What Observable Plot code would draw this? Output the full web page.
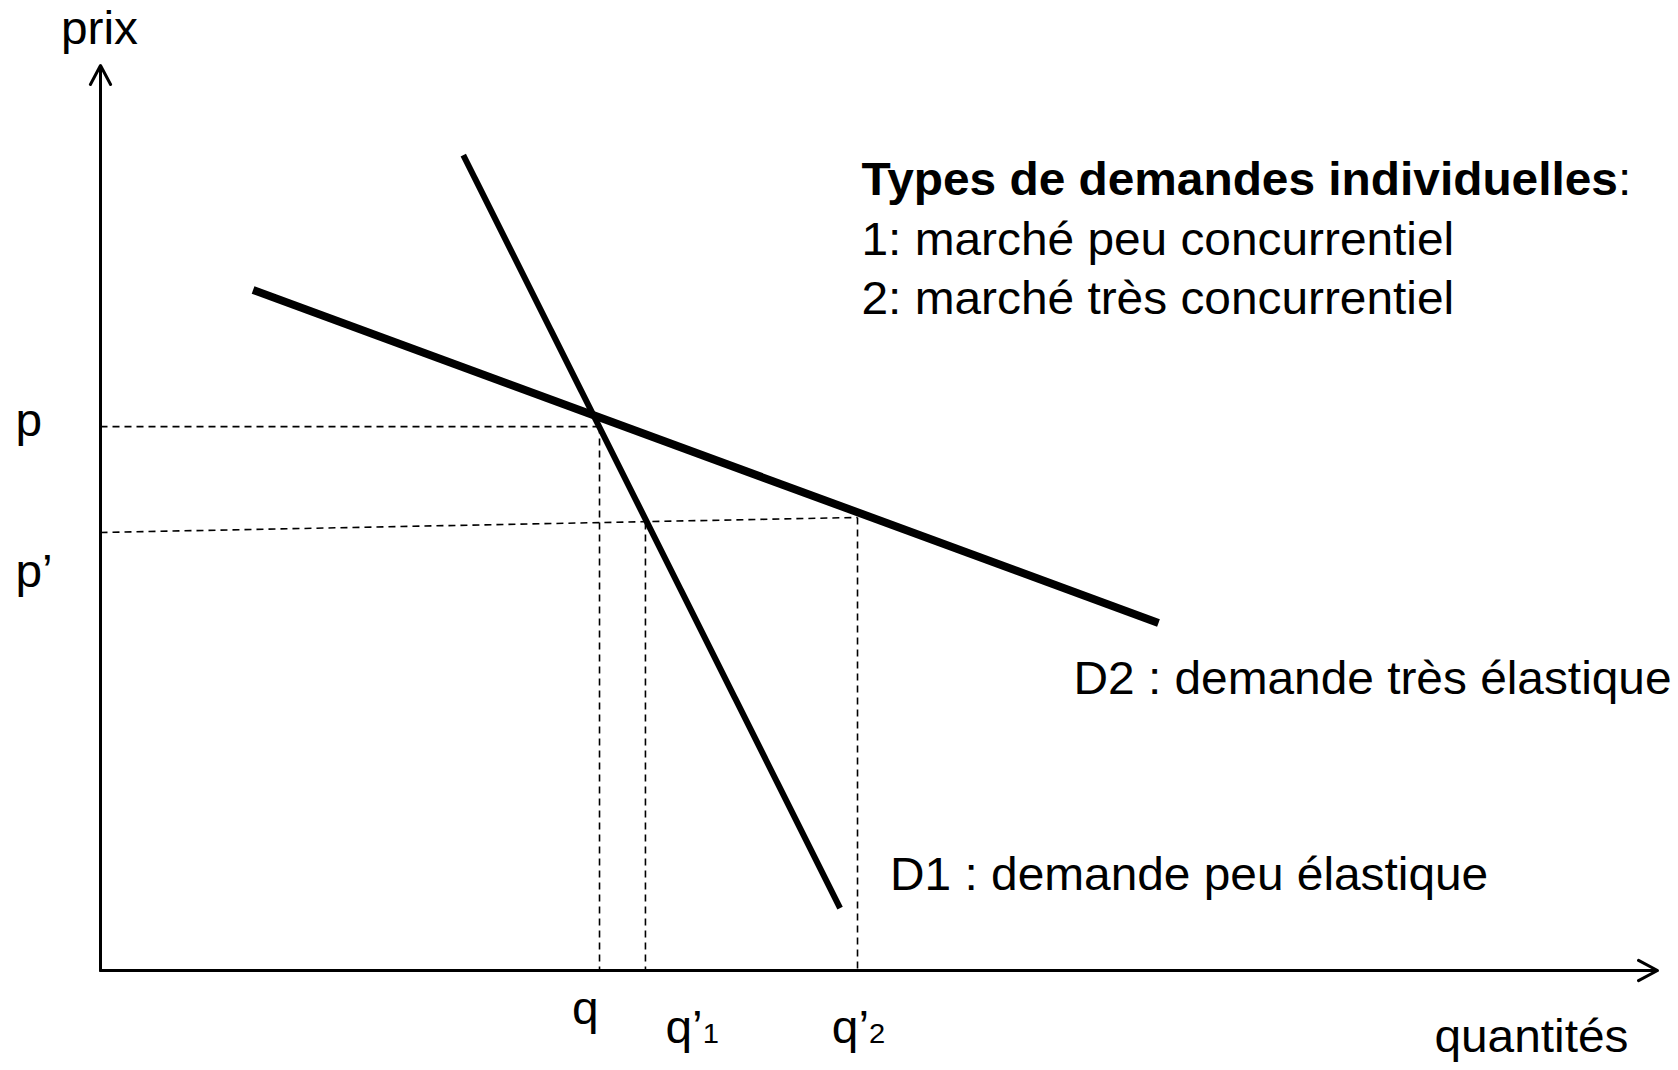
<!DOCTYPE html>
<html>
<head>
<meta charset="utf-8">
<script src="https://cdn.jsdelivr.net/npm/d3@7"></script>
<script src="https://cdn.jsdelivr.net/npm/@observablehq/plot@0.6"></script>
<style>
  html, body { margin: 0; padding: 0; background: #ffffff; }
  #chart svg { display: block; }
</style>
</head>
<body>
<div id="chart"></div>
<script>
// ---- Data (abstract units: quantités 0..100, prix 0..100) ----
const axisNames = ["prix", "quantités"];
const axisMax = [100, 100];

// demand curves: start and end points
const curveNames = ["D1", "D2"];
const curveLabels = ["D1 : demande peu élastique", "D2 : demande très élastique"];
const curveStartQ = [23.3, 9.8];
const curveStartP = [90.1, 75.2];
const curveEndQ = [47.5, 67.95];
const curveEndP = [6.9, 38.4];

// price levels (p, p’): value at the axis and at the far end of its guide line
const priceLabels = ["p", "p’"];
const priceAtAxis = [60.1, 48.4];
const priceAtEnd = [60.1, 50.06];

// quantity levels and the height where each guide starts
const quantityLabels = ["q", "q’1", "q’2"];
const quantityValues = [32.05, 35.0, 48.62];
const quantityGuideTop = [60.1, 49.5, 50.06];

// legend text
const legendLines = [
  "Types de demandes individuelles:",
  "1: marché peu concurrentiel",
  "2: marché très concurrentiel"
];

// ---- Tables built from the arrays ----
const curves = curveNames.map((n, i) => ({
  name: n, label: curveLabels[i],
  q1: curveStartQ[i], p1: curveStartP[i], q2: curveEndQ[i], p2: curveEndP[i]
}));
const axes = [
  {x1: 0, y1: 0, x2: 0, y2: axisMax[0]},
  {x1: 0, y1: 0, x2: axisMax[1], y2: 0}
];
const priceGuides = [
  {label: priceLabels[0], x1: 0, y1: priceAtAxis[0], x2: quantityValues[0], y2: priceAtEnd[0]},
  {label: priceLabels[1], x1: 0, y1: priceAtAxis[1], x2: quantityValues[2], y2: priceAtEnd[1]}
];
const quantityGuides = quantityLabels.map((l, i) => ({
  label: l, x: quantityValues[i], top: quantityGuideTop[i]
}));

const FONT = "Liberation Sans, Arial, Helvetica, sans-serif";
const FS = 46;
const dash = {stroke: "black", strokeWidth: 1.6, strokeDasharray: "7,5"};

const txt = (data, opts) => Plot.text(data, {fontSize: FS, fill: "black", lineAnchor: "bottom", ...opts});

const svg = Plot.plot({
  width: 1678,
  height: 1070,
  margin: 0,
  style: {fontFamily: FONT, background: "white", overflow: "visible"},
  x: {type: "linear", domain: [0, 100], range: [100, 1657], axis: null},
  y: {type: "linear", domain: [0, 100], range: [970, 65], axis: null},
  marks: [
    // dashed guides
    Plot.link(priceGuides, {x1: "x1", y1: "y1", x2: "x2", y2: "y2", ...dash}),
    Plot.link(quantityGuides, {x1: "x", y1: "top", x2: "x", y2: () => 0, ...dash}),
    // axes with arrow heads
    Plot.arrow(axes, {x1: "x1", y1: "y1", x2: "x2", y2: "y2", stroke: "black", strokeWidth: 3, headAngle: 56, headLength: 10.75}),
    // demand curves
    Plot.link([curves[0]], {x1: "q1", y1: "p1", x2: "q2", y2: "p2", stroke: "black", strokeWidth: 6, strokeLinecap: "butt"}),
    Plot.link([curves[1]], {x1: "q1", y1: "p1", x2: "q2", y2: "p2", stroke: "black", strokeWidth: 8, strokeLinecap: "butt"}),
    // axis names
    txt([axisNames[0]], {x: () => 0, y: () => axisMax[0], text: d => d, textAnchor: "middle", dx: -1, dy: -22}),
    txt([axisNames[1]], {x: () => axisMax[1], y: () => 0, text: d => d, textAnchor: "end", dx: -29, dy: 81}),
    // price labels
    txt([priceGuides[0]], {y: "y1", text: "label", frameAnchor: "left", textAnchor: "start", dx: 15, dy: 9}),
    txt([priceGuides[1]], {y: "y1", text: "label", frameAnchor: "left", textAnchor: "start", dx: 15, dy: 55}),
    // quantity labels
    txt([quantityGuides[0]], {x: "x", y: () => 0, text: "label", textAnchor: "end", dx: -1, dy: 53}),
    txt([quantityGuides[1]], {x: "x", y: () => 0, text: "label", textAnchor: "start", dx: 20, dy: 72}),
    txt([quantityGuides[2]], {x: "x", y: () => 0, text: "label", textAnchor: "middle", dx: 1, dy: 72}),
    // curve labels
    txt([curves[0]], {x: "q2", y: "p2", text: "label", textAnchor: "start", dx: 50, dy: -18}),
    txt([curves[1]], {x: "q2", y: "p2", text: "label", textAnchor: "start", dx: -85, dy: 71}),
    // legend
    txt([legendLines[0]], {frameAnchor: "top-left", text: d => d, textAnchor: "start", dx: 861, dy: 194}),
    txt([legendLines[1]], {frameAnchor: "top-left", text: d => d, textAnchor: "start", dx: 861, dy: 254}),
    txt([legendLines[2]], {frameAnchor: "top-left", text: d => d, textAnchor: "start", dx: 861, dy: 313})
  ]
});

// rich text: bold legend title, small digits in q’1 / q’2; slightly wider glyphs as in the reference
d3.select(svg).selectAll("text").each(function () {
  const t = this.textContent;
  const sel = d3.select(this);
  if (t === legendLines[0]) {
    this.textContent = "";
    sel.append("tspan").attr("font-weight", "bold").text(t.slice(0, -1));
    sel.append("tspan").text(":");
  } else if (t === quantityLabels[1] || t === quantityLabels[2]) {
    this.textContent = "";
    sel.append("tspan").text(t.slice(0, -1));
    sel.append("tspan").attr("font-size", "28px").text(t.slice(-1));
  }
  const tr = this.getAttribute("transform") || "";
  this.setAttribute("transform", (tr + " scale(1.04,1)").trim());
});

document.getElementById("chart").appendChild(svg);
</script>
</body>
</html>
